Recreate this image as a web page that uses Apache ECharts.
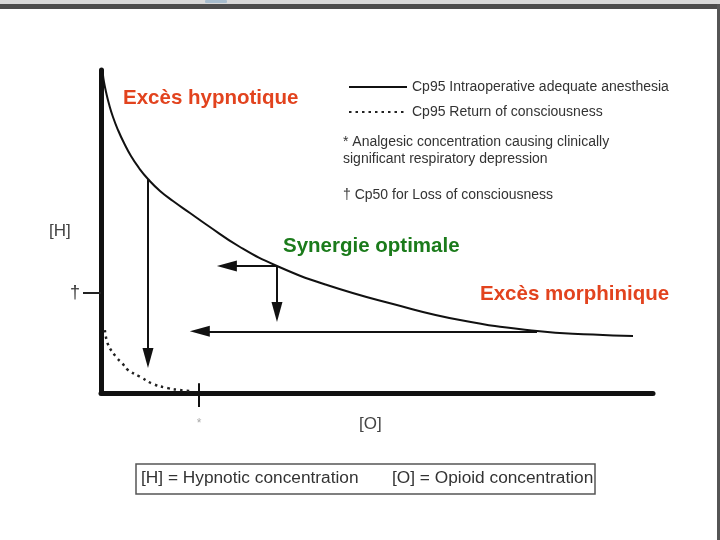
<!DOCTYPE html>
<html>
<head>
<meta charset="utf-8">
<script src="https://cdn.jsdelivr.net/npm/echarts@6/dist/echarts.min.js"></script>
<style>
html,body{margin:0;padding:0;background:#fff;}
#chart{width:720px;height:540px;}
</style>
</head>
<body>
<div id="chart"></div>
<script>
// Cp95 intraoperative adequate anesthesia (solid curve)
const adequateX = [0.36, 0.54, 0.91, 1.45, 2.17, 3.08, 4.17, 5.43, 6.88, 8.51, 10.69, 13.04, 16.12, 19.20, 25.18, 31.88, 40.94, 52.90, 65.04, 78.99, 89.13, 96.38];
const adequateY = [98.45, 96.28, 93.19, 89.47, 85.45, 81.42, 77.40, 73.37, 69.66, 66.25, 62.54, 59.44, 55.73, 52.01, 45.20, 39.32, 33.44, 27.55, 22.60, 19.20, 18.11, 17.65];
// Cp95 return of consciousness (dotted curve)
const returnX = [0.7, 1.3, 2.9, 3.8, 4.9, 7.1, 9.4, 12.1, 14.3, 16.5];
const returnY = [19.5, 14.9, 10.8, 9.3, 7.1, 5.0, 2.8, 1.5, 0.9, 0.6];
// Arrows: [x1, y1, x2, y2]
const arrows = [
  [8.51, 66.25, 8.51, 10.8],
  [31.88, 39.32, 22.8, 39.32],
  [31.88, 39.32, 31.88, 25.1],
  [78.99, 19.1, 17.9, 19.1]
];
// Special tick marks
const lossOfConsciousnessH = [31];   // † on [H]
const respDepressionO = [17.75];     // * on [O]

const seriesNames = ['Cp95 Intraoperative adequate anesthesia', 'Cp95 Return of consciousness'];

const chart = echarts.init(document.getElementById('chart'));
const font = '"Liberation Sans", Arial, sans-serif';

const option = {
  backgroundColor: '#ffffff',
  animation: false,
  grid: { left: 101, right: 67, top: 70, bottom: 147 },
  legend: {
    orient: 'vertical',
    left: 343,
    top: 75,
    itemWidth: 58,
    itemHeight: 14,
    itemGap: 11,
    data: seriesNames,
    itemStyle: { opacity: 0 },
    textStyle: { fontFamily: font, fontSize: 14, color: '#333' }
  },
  xAxis: {
    type: 'value', min: 0, max: 100,
    axisLine: { show: true, lineStyle: { color: '#111', width: 5 } },
    splitLine: { show: false },
    axisTick: { show: true, customValues: respDepressionO, length: 14, lineStyle: { color: '#111', width: 2 } },
    axisLabel: { show: true, customValues: respDepressionO, formatter: () => '*', color: '#aaa', fontSize: 12, margin: 25, fontFamily: font }
  },
  yAxis: {
    type: 'value', min: 0, max: 100,
    axisLine: { show: true, lineStyle: { color: '#111', width: 5 } },
    splitLine: { show: false },
    axisTick: { show: true, customValues: lossOfConsciousnessH, length: 18, lineStyle: { color: '#222', width: 2 } },
    axisLabel: { show: true, customValues: lossOfConsciousnessH, formatter: () => '†', color: '#333', fontSize: 18, margin: 21, fontFamily: font }
  },
  series: [
    {
      name: seriesNames[0], type: 'line', symbol: 'none', smooth: 0.5,
      lineStyle: { color: '#111', width: 2 },
      itemStyle: { color: '#111' },
      data: adequateX.map((x, i) => [x, adequateY[i]]),
      markLine: {
        silent: true, symbol: ['none', 'triangle'], symbolSize: [11, 20],
        lineStyle: { color: '#111', width: 2, type: 'solid' },
        label: { show: false },
        data: arrows.map(a => [{ coord: [a[0], a[1]] }, { coord: [a[2], a[3]] }])
      }
    },
    {
      name: seriesNames[1], type: 'line', symbol: 'none', smooth: 0.4,
      lineStyle: { color: '#222', width: 2.5, type: [2.5, 4] },
      itemStyle: { color: '#222' },
      data: returnX.map((x, i) => [x, returnY[i]]),
      markLine: {
        silent: true, symbol: ['none', 'none'],
        lineStyle: { color: '#111', width: 2, type: 'solid' },
        label: { show: false },
        data: respDepressionO.map(v => [{ coord: [v, 0] }, { coord: [v, 3] }])
      }
    }
  ],
  graphic: [
    // screenshot frame
    { type: 'rect', shape: { x: 0, y: 0, width: 720, height: 5 }, style: { fill: '#d9d9d9' } },
    { type: 'rect', shape: { x: 0, y: 4, width: 720, height: 5 }, style: { fill: '#4d4d4d' } },
    { type: 'rect', shape: { x: 205, y: 0, width: 22, height: 3, r: 1 }, style: { fill: '#a7bccd' } },
    { type: 'rect', shape: { x: 717, y: 4, width: 3, height: 536 }, style: { fill: '#555' } },
    // axis names
    { type: 'text', left: 49, top: 223, style: { text: '[H]', font: '17px ' + font, fill: '#444' } },
    { type: 'text', left: 359, top: 416, style: { text: '[O]', font: '17px ' + font, fill: '#444' } },
    // annotations
    { type: 'text', left: 123, top: 88, style: { text: 'Excès hypnotique', font: 'bold 20.5px ' + font, fill: '#e2431e' } },
    { type: 'text', left: 283, top: 236, style: { text: 'Synergie optimale', font: 'bold 20.5px ' + font, fill: '#1b7b1b' } },
    { type: 'text', left: 480, top: 284, style: { text: 'Excès morphinique', font: 'bold 20.5px ' + font, fill: '#e2431e' } },
    // legend notes
    { type: 'text', left: 343, top: 135, style: { text: '* Analgesic concentration causing clinically', font: '14px ' + font, fill: '#333' } },
    { type: 'text', left: 343, top: 152, style: { text: 'significant respiratory depression', font: '14px ' + font, fill: '#333' } },
    { type: 'text', left: 343, top: 188, style: { text: '† Cp50 for Loss of consciousness', font: '14px ' + font, fill: '#333' } },
    // bottom box
    { type: 'rect', shape: { x: 136, y: 464, width: 459, height: 30 }, style: { fill: '#fff', stroke: '#555', lineWidth: 1.5 } },
    { type: 'text', left: 141, top: 470, style: { text: '[H] = Hypnotic concentration', font: '17.3px ' + font, fill: '#333' } },
    { type: 'text', left: 392, top: 470, style: { text: '[O] = Opioid concentration', font: '17.3px ' + font, fill: '#333' } }
  ]
};
chart.setOption(option);
</script>
</body>
</html>
